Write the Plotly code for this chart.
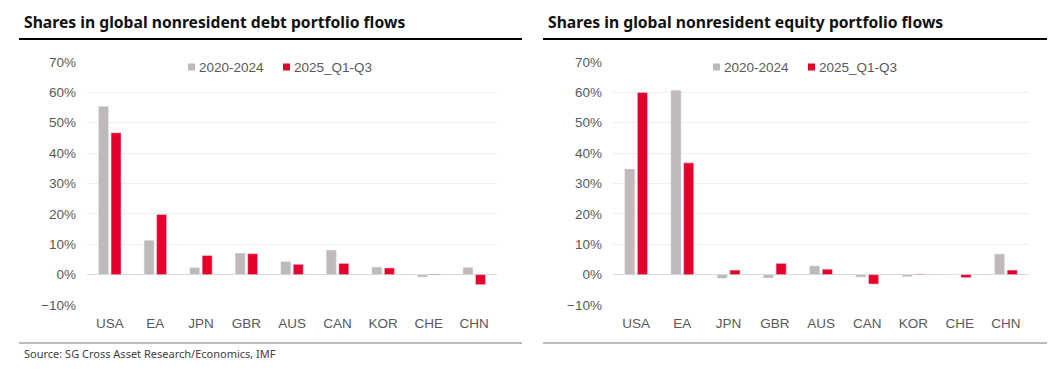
import plotly.graph_objects as go

categories = ["USA", "EA", "JPN", "GBR", "AUS", "CAN", "KOR", "CHE", "CHN"]
debt_2020_2024 = [55.4, 11.3, 2.3, 7.1, 4.3, 8.1, 2.5, -0.8, 2.4]
debt_2025 = [46.7, 19.8, 6.3, 6.9, 3.4, 3.7, 2.2, 0.2, -3.3]
eq_2020_2024 = [34.8, 60.7, -1.2, -1.1, 2.9, -0.8, -0.7, 0.1, 6.8]
eq_2025 = [60.0, 36.8, 1.5, 3.7, 1.8, -3.1, 0.2, -1.0, 1.5]
series_names = ["2020-2024", "2025_Q1-Q3"]
titles = ["Shares in global nonresident debt portfolio flows",
          "Shares in global nonresident equity portfolio flows"]
source = "Source: SG Cross Asset Research/Economics, IMF"
tick_vals = [-0.1, 0, 0.1, 0.2, 0.3, 0.4, 0.5, 0.6, 0.7]

GREY = "#BFB9B9"
RED = "#E4002B"
W, H = 1050, 370

def px(x):
    return x / W

def py(y):
    return 1 - y / H

fig = go.Figure()
for i, (a, b) in enumerate([(debt_2020_2024, debt_2025), (eq_2020_2024, eq_2025)]):
    xa = "x" if i == 0 else "x2"
    ya = "y" if i == 0 else "y2"
    fig.add_trace(go.Bar(x=categories, y=[v / 100 for v in a], name=series_names[0],
                         marker_color=GREY, xaxis=xa, yaxis=ya, showlegend=False))
    fig.add_trace(go.Bar(x=categories, y=[v / 100 for v in b], name=series_names[1],
                         marker_color=RED, xaxis=xa, yaxis=ya, showlegend=False))

tickfont = dict(family="Liberation Sans, Arial", size=13.5, color="#595959")
yax = dict(range=[-0.1, 0.7], tickvals=tick_vals, tickformat=".0%", showgrid=True,
           gridcolor="#EFEFEF", gridwidth=1, zeroline=True, zerolinecolor="#D9D9D9",
           zerolinewidth=1, tickfont=tickfont, ticks="", showline=False,
           ticklabelstandoff=10,
           domain=[py(305), py(62)], fixedrange=True)
xax = dict(showgrid=False, tickfont=tickfont, ticks="", showline=False, fixedrange=True,
           ticklabelstandoff=8)

fig.update_layout(
    width=W, height=H, margin=dict(l=0, r=0, t=0, b=0, autoexpand=False),
    paper_bgcolor="white", plot_bgcolor="white",
    barmode="group", bargap=0.45, bargroupgap=0.2,
    xaxis=dict(xax, domain=[px(87), px(497)], anchor="y"),
    yaxis=dict(yax, anchor="x"),
    xaxis2=dict(xax, domain=[px(613), px(1029)], anchor="y2"),
    yaxis2=dict(yax, anchor="x2"),
)

shapes = []
annotations = []
for (x0, x1) in [(19, 522), (543, 1047)]:
    shapes.append(dict(type="line", xref="paper", yref="paper", x0=px(x0), x1=px(x1),
                       y0=py(39), y1=py(39), line=dict(color="black", width=2.2)))
    shapes.append(dict(type="line", xref="paper", yref="paper", x0=px(x0), x1=px(x1),
                       y0=py(343), y1=py(343), line=dict(color="#A6A6A6", width=1.5)))
for t, x in zip(titles, [22, 546]):
    annotations.append(dict(text="<b>" + t + "</b>", xref="paper", yref="paper",
                            x=px(x), y=py(22), xanchor="left", yanchor="middle",
                            showarrow=False,
                            font=dict(family="Noto Sans", size=15.7, color="#111111")))
legfont = dict(family="Liberation Sans, Arial", size=13.5, color="#595959")
for base in [0, 525]:
    for name, col, sx in [(series_names[0], GREY, 188), (series_names[1], RED, 283)]:
        x0 = sx + base
        shapes.append(dict(type="rect", xref="paper", yref="paper", x0=px(x0), x1=px(x0 + 7),
                           y0=py(70.5), y1=py(63.5), fillcolor=col, line=dict(width=0)))
        annotations.append(dict(text=name, xref="paper", yref="paper", x=px(x0 + 9),
                                y=py(67), xanchor="left", yanchor="middle",
                                showarrow=False, font=legfont))
annotations.append(dict(text=source, xref="paper", yref="paper", x=px(22), y=py(353),
                        xanchor="left", yanchor="middle", showarrow=False,
                        font=dict(family="Noto Sans", size=11, color="#404040")))
fig.update_layout(shapes=shapes, annotations=annotations)

post = ("var gd=document.getElementById('{plot_id}');"
        "gd.style.position='fixed';gd.style.top='0px';gd.style.left='0px';"
        "document.body.style.margin='0';document.body.style.overflow='hidden';"
        "document.documentElement.style.overflow='hidden';")
fig.write_html("out.html", config={"displayModeBar": False}, post_script=post)
